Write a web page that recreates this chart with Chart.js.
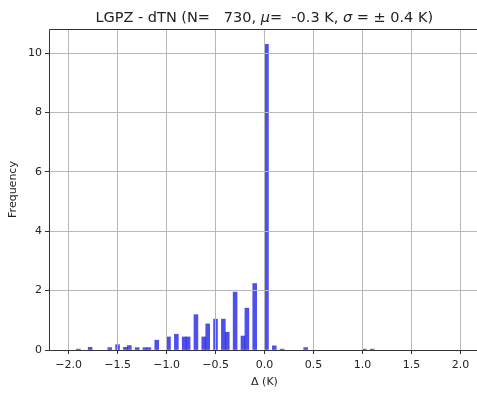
<!DOCTYPE html>
<html>
<head>
<meta charset="utf-8">
<script src="https://cdn.jsdelivr.net/npm/chart.js@4"></script>
<style>
  html, body { margin: 0; padding: 0; background: #fff; overflow: hidden; width: 477px; height: 394px; }
  #wrap { position: relative; width: 480px; height: 394px; }
</style>
</head>
<body>
<div id="wrap"><canvas id="c"></canvas></div>
<script>
// Histogram of temperature differences (bin width 0.04 K), bar centres and heights
const binCenters = [-1.90, -1.78, -1.58, -1.50, -1.42, -1.38, -1.30, -1.22, -1.18, -1.10,
                    -0.98, -0.90, -0.82, -0.78, -0.70, -0.62, -0.58, -0.50, -0.42, -0.38,
                    -0.30, -0.22, -0.18, -0.10, 0.02, 0.10, 0.18, 0.42, 1.02, 1.10];
const frequency  = [0.03, 0.09, 0.08, 0.18, 0.09, 0.15, 0.08, 0.08, 0.08, 0.33,
                    0.44, 0.53, 0.44, 0.44, 1.19, 0.44, 0.88, 1.04, 1.04, 0.60,
                    1.95, 0.47, 1.41, 2.24, 10.30, 0.14, 0.03, 0.08, 0.03, 0.03];

const xTickValues = [-2.0, -1.5, -1.0, -0.5, 0.0, 0.5, 1.0, 1.5, 2.0];
const yTickValues = [0, 2, 4, 6, 8, 10];

const station = 'LGPZ - dTN';
const sampleCount = 730;
const meanK = '-0.3';
const sigmaK = '0.4';

const FONT = "'DejaVu Sans', sans-serif";
const TEXT = '#222';

const fmtX = v => (v < 0 ? '\u2212' : '') + Math.abs(v).toFixed(1);

// Title with italic Greek symbols, drawn piecewise above the plot
const titlePlugin = {
  id: 'mixedTitle',
  afterDraw(chart) {
    const { ctx, chartArea } = chart;
    const size = 14.5;
    const parts = [
      { t: station + ' (N=   ' + sampleCount + ', ', it: false },
      { t: '\u03bc', it: true },
      { t: '=  ' + meanK + ' K, ', it: false },
      { t: '\u03c3', it: true },
      { t: ' = \u00b1 ' + sigmaK + ' K)', it: false }
    ];
    ctx.save();
    ctx.fillStyle = TEXT;
    ctx.textBaseline = 'alphabetic';
    let total = 0;
    parts.forEach(p => {
      ctx.font = (p.it ? 'italic ' : '') + size + 'px ' + FONT;
      p.w = ctx.measureText(p.t).width;
      total += p.w;
    });
    let x = (chartArea.left + 479.5) / 2 - total / 2;
    const y = 22;
    parts.forEach(p => {
      ctx.font = (p.it ? 'italic ' : '') + size + 'px ' + FONT;
      ctx.textAlign = 'left';
      ctx.fillText(p.t, x, y);
      x += p.w;
    });
    ctx.restore();
  }
};

// Axes frame: left, top and bottom spines (right one lies past the window edge)
const framePlugin = {
  id: 'frame',
  afterDraw(chart) {
    const { ctx, chartArea: a } = chart;
    const l = Math.round(a.left) + 0.5, t = Math.round(a.top) + 0.5, b = Math.round(a.bottom) + 0.5;
    ctx.save();
    ctx.strokeStyle = '#333';
    ctx.lineWidth = 1;
    ctx.beginPath();
    ctx.moveTo(a.right, t);
    ctx.lineTo(l, t);
    ctx.lineTo(l, b);
    ctx.lineTo(a.right, b);
    ctx.stroke();
    ctx.restore();
  }
};

new Chart(document.getElementById('c'), {
  type: 'bar',
  data: {
    datasets: [{
      data: binCenters.map((x, i) => ({ x: x, y: frequency[i] })),
      backgroundColor: 'rgba(30, 30, 230, 0.78)',
      borderWidth: 0,
      barPercentage: 1,
      categoryPercentage: 1
    }]
  },
  options: {
    responsive: true,
    maintainAspectRatio: false,
    animation: false,
    devicePixelRatio: 1,
    layout: { padding: { top: 29, left: 0, right: 0, bottom: 0 } },
    plugins: { legend: { display: false }, title: { display: false }, tooltip: { enabled: false } },
    scales: {
      x: {
        type: 'linear',
        min: -2.2,
        max: 2.2,
        offset: false,
        afterBuildTicks: s => { s.ticks = xTickValues.map(v => ({ value: v })); },
        afterFit: s => { s.height = 44; },
        grid: { offset: false, z: 1, color: '#b8b8b8', lineWidth: 1, tickColor: '#333', tickLength: 4, tickWidth: 1 },
        border: { display: false },
        ticks: { color: TEXT, font: { family: FONT, size: 11 }, padding: 5, maxRotation: 0, autoSkip: false, callback: v => fmtX(v) },
        title: { display: true, text: '\u0394 (K)', color: TEXT, font: { family: FONT, size: 11 }, padding: { top: 0, bottom: 5 } }
      },
      y: {
        type: 'linear',
        min: 0,
        max: 10.815,
        afterBuildTicks: s => { s.ticks = yTickValues.map(v => ({ value: v })); },
        afterFit: s => { s.width = 49; },
        grid: { z: 1, color: '#b8b8b8', lineWidth: 1, tickColor: '#333', tickLength: 4, tickWidth: 1 },
        border: { display: false },
        ticks: { color: TEXT, font: { family: FONT, size: 11 }, padding: 3, callback: v => String(v) },
        title: { display: true, text: 'Frequency', color: TEXT, font: { family: FONT, size: 11 }, padding: { top: 7, bottom: 0 } }
      }
    }
  },
  plugins: [titlePlugin, framePlugin]
});
</script>
</body>
</html>
